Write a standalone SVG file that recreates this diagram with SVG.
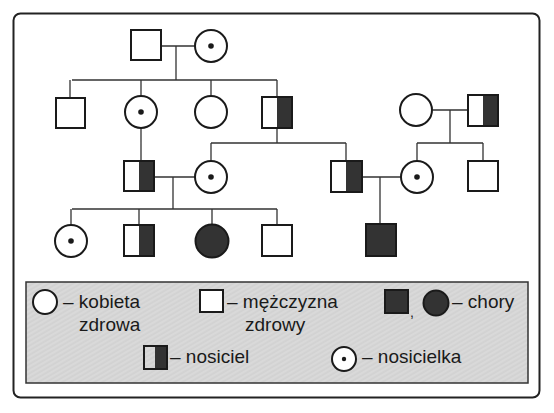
<svg xmlns="http://www.w3.org/2000/svg" width="554" height="413" viewBox="0 0 554 413">
<defs>
<style>
.n{fill:#fff;stroke:#1a1a1a;stroke-width:2}
.f{fill:#333;stroke:#1a1a1a;stroke-width:2}
.h{fill:#333}
.d{fill:#1a1a1a}
.c{fill:none;stroke:#333;stroke-width:1.3}
.t{font-family:"Liberation Sans",Arial,sans-serif;font-size:19px;fill:#1a1a1a}
</style>
<pattern id="tex" width="4" height="4" patternUnits="userSpaceOnUse" patternTransform="rotate(-30)">
<rect width="4" height="4" fill="#d9d9d9"/>
<line x1="0" y1="2" x2="4" y2="2" stroke="#c9c9c9" stroke-width="0.8"/>
</pattern>
</defs>
<rect x="0" y="0" width="554" height="413" fill="#fff"/>
<rect x="13.5" y="13.5" width="526" height="384" rx="7" fill="none" stroke="#222" stroke-width="2"/>

<g id="connectors">
<path class="c" d="M161 46H195M176 46V80M72 80H277M70 80V98M141 80V96M211 80V96M277 80V97"/>
<path class="c" d="M433 110H468M450 110V143M417 143H483M417 143V161M483 143V161"/>
<path class="c" d="M141 128V161M277 128V143M211 143H346M211 143V161M346 143V161"/>
<path class="c" d="M154 177H195M173 177V209M72 209H277M71 209V225M139 209V225M212 209V224M277 209V225"/>
<path class="c" d="M362 177H401M380 177V224"/>
</g>

<g id="g1-father"><rect class="n" x="131" y="30" width="30" height="30"/></g>
<g id="g1-mother"><circle class="n" cx="211" cy="46" r="16"/><circle class="d" cx="211" cy="46" r="2.8"/></g>

<g id="g2-son1"><rect class="n" x="56" y="98" width="29" height="30"/></g>
<g id="g2-dau1"><circle class="n" cx="141" cy="112" r="16"/><circle class="d" cx="141" cy="112" r="2.8"/></g>
<g id="g2-dau2"><circle class="n" cx="211" cy="112" r="16"/></g>
<g id="g2-son2"><rect class="h" x="277" y="97" width="15" height="31"/><rect class="n" x="262" y="97" width="30" height="31" style="fill:none"/></g>
<g id="g2-wife"><circle class="n" cx="416" cy="110" r="16"/></g>
<g id="g2-husband"><rect class="h" x="483" y="95" width="15" height="31"/><rect class="n" x="468" y="95" width="30" height="31" style="fill:none"/></g>

<g id="g3-man1"><rect class="h" x="139" y="161" width="15" height="30"/><rect class="n" x="124" y="161" width="30" height="30" style="fill:none"/></g>
<g id="g3-woman1"><circle class="n" cx="211" cy="177" r="16"/><circle class="d" cx="211" cy="177" r="2.8"/></g>
<g id="g3-man2"><rect class="h" x="346" y="161" width="16" height="31"/><rect class="n" x="331" y="161" width="31" height="31" style="fill:none"/></g>
<g id="g3-woman2"><circle class="n" cx="417" cy="177" r="16"/><circle class="d" cx="417" cy="177" r="2.8"/></g>
<g id="g3-man3"><rect class="n" x="468" y="161" width="30" height="30"/></g>

<g id="g4-dau1"><circle class="n" cx="71" cy="241" r="16"/><circle class="d" cx="71" cy="241" r="2.8"/></g>
<g id="g4-son1"><rect class="h" x="139" y="225" width="15" height="31"/><rect class="n" x="124" y="225" width="30" height="31" style="fill:none"/></g>
<g id="g4-dau2"><circle class="f" cx="212" cy="241" r="16.5"/></g>
<g id="g4-son2"><rect class="n" x="262" y="225" width="30" height="31"/></g>
<g id="g4-son3"><rect class="f" x="366" y="224" width="30" height="32"/></g>

<g id="legend">
<rect x="26" y="282" width="502" height="101" fill="url(#tex)" stroke="#333" stroke-width="1.5"/>
<circle class="n" cx="45" cy="302" r="12"/>
<text class="t" x="63" y="308">– kobieta</text>
<text class="t" x="79" y="331">zdrowa</text>
<rect class="n" x="200" y="290" width="23" height="22"/>
<text class="t" x="227" y="308">– mężczyzna</text>
<text class="t" x="245" y="331">zdrowy</text>
<rect class="f" x="385" y="290" width="23" height="23"/>
<text class="t" x="410" y="317" style="font-size:14px">,</text>
<circle class="f" cx="436" cy="303" r="12.5"/>
<text class="t" x="452" y="308">– chory</text>
<rect class="h" x="155" y="346" width="12" height="23"/>
<rect class="n" x="144" y="346" width="23" height="23" style="fill:none"/>
<text class="t" x="170" y="363">– nosiciel</text>
<circle class="n" cx="344" cy="359" r="12"/><circle class="d" cx="344" cy="359" r="2.2"/>
<text class="t" x="362" y="363">– nosicielka</text>
</g>
</svg>
